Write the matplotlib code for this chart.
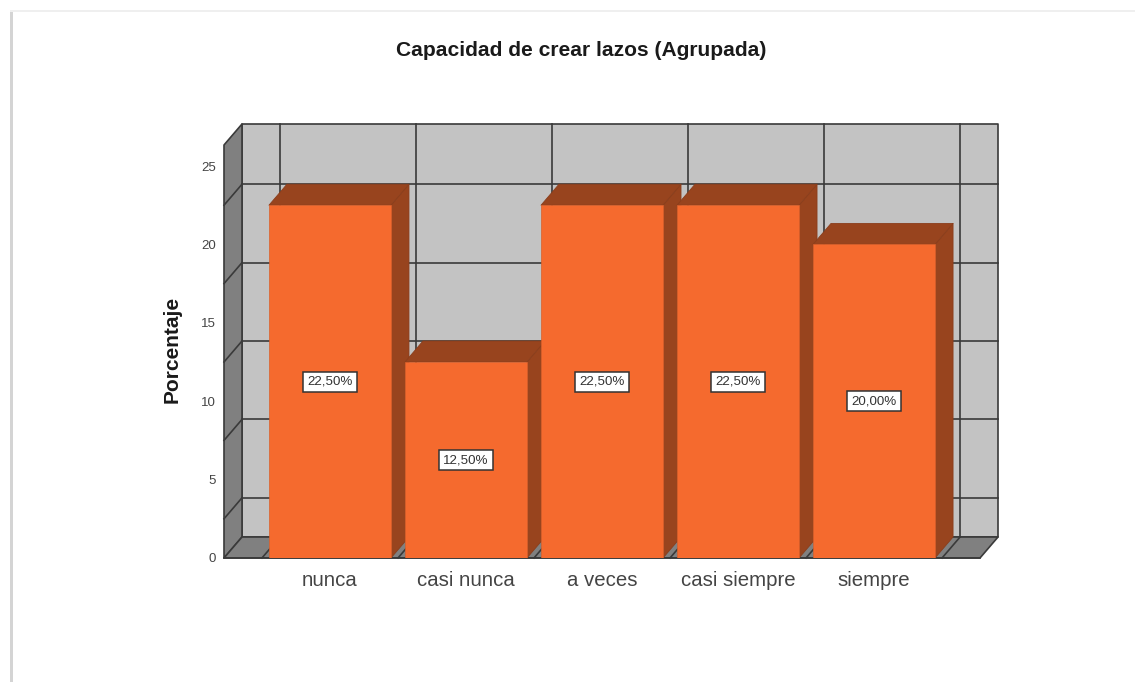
import matplotlib
matplotlib.use('Agg')
import matplotlib.pyplot as plt
from matplotlib.patches import Polygon, Rectangle
from matplotlib.lines import Line2D

plt.rcParams['font.family'] = ['Liberation Sans', 'DejaVu Sans']

# Data
categories = ['nunca', 'casi nunca', 'a veces', 'casi siempre', 'siempre']
values = [22.5, 12.5, 22.5, 22.5, 20.0]
value_labels = ['22,50%', '12,50%', '22,50%', '22,50%', '20,00%']
y_ticks = [0, 5, 10, 15, 20, 25]
grid_y = [2.5, 7.5, 12.5, 17.5, 22.5]
grid_x = [-0.5, 0.5, 1.5, 2.5, 3.5, 4.5]

W, H = 1135, 682
fig = plt.figure(figsize=(W / 100, H / 100), dpi=100, facecolor='white')

# front plane of the 3D box, in pixels
left, right, bottom, top = 224, 980, 558, 145
ax = fig.add_axes([left / W, 1 - bottom / H, (right - left) / W, (bottom - top) / H])
ax.set_xlim(-0.779, 4.779)
ax.set_ylim(0, 26.34)
ax.patch.set_visible(False)
for s in ax.spines.values():
    s.set_visible(False)

# depth of the 3D effect in data units
dx = 18 / 136
dy = 21 / 15.68
x0, x1 = ax.get_xlim()
y0, y1 = ax.get_ylim()
edge = '#3a3a3a'
wall = '#c3c3c3'
side = '#808080'
front_c = '#f56a2e'
dark_c = '#98441e'


def poly(pts, fc, ec=edge, lw=1.2, z=1):
    ax.add_patch(Polygon(pts, closed=True, facecolor=fc, edgecolor=ec, linewidth=lw,
                         zorder=z, clip_on=False, joinstyle='round'))


def line(xs, ys, z=2, color=edge, lw=1.2):
    ax.add_line(Line2D(xs, ys, color=color, lw=lw, zorder=z, clip_on=False))


# walls and floor
poly([(x0 + dx, dy), (x1 + dx, dy), (x1 + dx, y1 + dy), (x0 + dx, y1 + dy)], wall)
poly([(x0, y0), (x0 + dx, dy), (x0 + dx, y1 + dy), (x0, y1)], side)
poly([(x0, y0), (x1, y0), (x1 + dx, dy), (x0 + dx, dy)], side)

for g in grid_y:
    line([x0 + dx, x1 + dx], [g + dy, g + dy])
    line([x0, x0 + dx], [g, g + dy])
for g in grid_x:
    line([g + dx, g + dx], [dy, y1 + dy])
    line([g, g + dx], [0, dy])

# bars
bar_w = 0.897
for i, v in enumerate(values):
    l = i - bar_w / 2
    r = i + bar_w / 2
    z = 3 + i
    poly([(r, 0), (r + dx, dy), (r + dx, v + dy), (r, v)], dark_c, ec='#8a3e1c', lw=0.6, z=z)
    poly([(l, v), (r, v), (r + dx, v + dy), (l + dx, v + dy)], dark_c, ec='#8a3e1c', lw=0.6, z=z)
    ax.bar(i, v, width=bar_w, color=front_c, edgecolor='#d9602b', linewidth=0.5, zorder=z + 0.1)
    ax.text(i, v / 2, value_labels[i], ha='center', va='center', fontsize=9.6, color='#333333',
            zorder=20, bbox=dict(boxstyle='square,pad=0.3', fc='white', ec='#333333', lw=1.1))

ax.add_line(Line2D([x0, x1], [0, 0], color=edge, lw=1.2, zorder=2, clip_on=False))

ax.set_xticks(range(len(categories)))
ax.set_xticklabels(categories, fontsize=14.7, color='#444444')
ax.set_yticks(y_ticks)
ax.set_yticklabels([str(t) for t in y_ticks], fontsize=9.5, color='#444444')
ax.tick_params(axis='both', length=0)
ax.tick_params(axis='x', pad=9)
ax.tick_params(axis='y', pad=6)

fig.text(581 / W, 1 - 51 / H, 'Capacidad de crear lazos (Agrupada)', ha='center', va='center',
         fontsize=15.1, fontweight='bold', color='#1a1a1a')
fig.text(172 / W, 1 - 349 / H, 'Porcentaje', ha='center', va='center', rotation=90,
         fontsize=15, fontweight='bold', color='#1a1a1a')

# page edge shadow
fig.add_artist(Rectangle((10 / W, 0), 3 / W, 1 - 10 / H, transform=fig.transFigure,
                         facecolor='#d4d4d4', edgecolor='none'))
fig.add_artist(Rectangle((10 / W, 1 - 12 / H), 1 - 10 / W, 2 / H, transform=fig.transFigure,
                         facecolor='#efefef', edgecolor='none'))

plt.savefig('out.png', dpi=100)
